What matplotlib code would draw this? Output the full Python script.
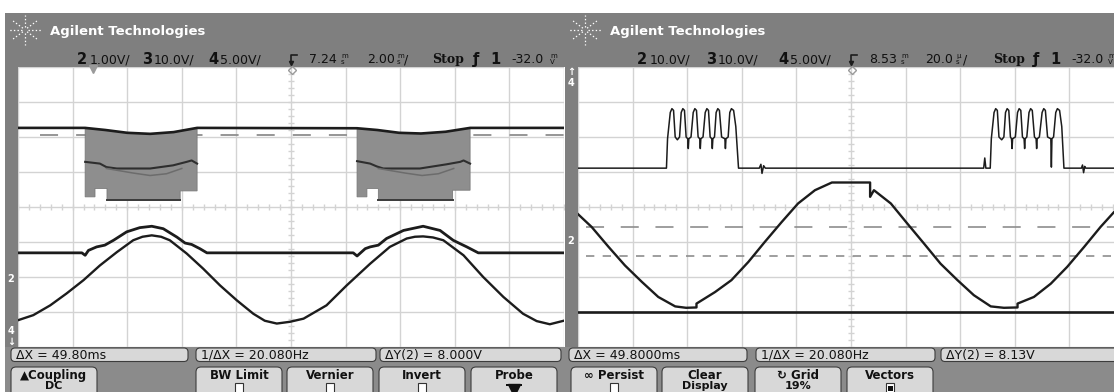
import matplotlib
matplotlib.use("Agg")
import matplotlib.pyplot as plt
from matplotlib.patches import Rectangle, FancyBboxPatch, Polygon

plt.rcParams["lines.scale_dashes"] = False
plt.rcParams["font.family"] = ["DejaVu Sans"]

W, H = 1114, 392
HEAD = "#7f7f7f"
FOOT = "#8b8b8b"
KEY = "#d8d8d8"
GRID = "#d3d3d3"
INK = "#1c1c1c"
DASH = "#8e8e8e"

# ---------------- left screen, 2.00 ms/div (x, y in divisions) ----------------
top_x = [0, 1.23, 1.6, 2.0, 2.42, 2.85, 3.28, 6.21, 6.58, 6.98, 7.38, 7.83, 8.28, 10]
top_y = [2.26, 2.26, 2.2, 2.12, 2.09, 2.14, 2.26, 2.25, 2.2, 2.12, 2.1, 2.15, 2.26, 2.26]
cursor_left_y = 2.05

# lower edge of the two modulated bursts
burst1_x = [1.23, 1.41, 1.41, 1.63, 1.63, 2.97, 2.97, 3.28]
burst1_bot = [0.29, 0.29, 0.53, 0.53, 0.19, 0.19, 0.46, 0.46]
burst2_x = [6.21, 6.39, 6.39, 6.60, 6.60, 7.96, 7.96, 8.28]
burst2_bot = [0.29, 0.29, 0.53, 0.53, 0.21, 0.21, 0.48, 0.48]

# dark envelope line inside the bursts, and the fainter one under it
mid1_x = [1.23, 1.50, 1.62, 1.81, 2.42, 2.84, 3.09, 3.18, 3.28]
mid1_y = [1.29, 1.24, 1.14, 1.10, 1.10, 1.19, 1.29, 1.33, 1.24]
mid2_x = [6.21, 6.45, 6.57, 6.69, 7.36, 7.85, 8.10, 8.16, 8.28]
mid2_y = [1.31, 1.24, 1.16, 1.10, 1.10, 1.22, 1.29, 1.33, 1.24]
low1_x = [1.62, 2.11, 2.42, 2.72, 3.00]
low1_y = [1.10, 0.97, 0.90, 0.95, 1.10]
low2_x = [6.60, 7.09, 7.40, 7.70, 7.98]
low2_y = [1.10, 0.97, 0.90, 0.95, 1.10]

hump_x = [0, 1.17, 1.23, 1.29, 1.44, 1.59, 1.75, 1.99, 2.23, 2.45, 2.66, 2.91, 3.06, 3.18,
          3.33, 3.46, 6.14, 6.21, 6.36, 6.45, 6.60, 6.75, 7.06, 7.42, 7.73, 7.97, 8.10, 8.22,
          8.43, 10]
hump_y = [-1.31, -1.31, -1.38, -1.24, -1.14, -1.09, -0.95, -0.71, -0.59, -0.55, -0.62, -0.86,
          -1.03, -1.07, -1.19, -1.31, -1.31, -1.40, -1.19, -1.14, -1.09, -0.90, -0.67, -0.55,
          -0.67, -0.95, -1.05, -1.14, -1.31, -1.31]

sine_x = [-0.01, 0.28, 0.59, 0.89, 1.20, 1.50, 1.81, 2.11, 2.28, 2.45, 2.62, 2.78, 3.09, 3.39,
          3.70, 4.01, 4.31, 4.52, 4.74, 4.98, 5.23, 5.65, 6.02, 6.45, 6.81, 7.12, 7.27, 7.42,
          7.60, 7.79, 8.16, 8.52, 8.89, 9.25, 9.50, 9.74, 10.02]
sine_y = [-3.24, -3.09, -2.81, -2.47, -2.09, -1.67, -1.29, -0.95, -0.85, -0.81, -0.85, -0.95,
          -1.33, -1.76, -2.24, -2.67, -3.05, -3.25, -3.33, -3.28, -3.19, -2.81, -2.24, -1.62,
          -1.14, -0.90, -0.85, -0.84, -0.87, -0.95, -1.38, -2.00, -2.57, -3.05, -3.26, -3.35,
          -3.24]

# ---------------- right screen, 20.0 us/div ----------------
pulse_x = [0, 1.62, 1.64, 1.69, 1.72, 1.75, 1.78, 1.82, 1.86, 1.89, 1.92, 1.95, 1.98, 2.01,
           2.02, 2.03, 2.07, 2.11, 2.14, 2.17, 2.20, 2.23, 2.24, 2.25, 2.29, 2.33, 2.36, 2.39,
           2.42, 2.45, 2.46, 2.47, 2.50, 2.53, 2.56, 2.59, 2.63, 2.69, 2.70, 2.71, 2.75, 2.78,
           2.81, 2.85, 2.89, 2.94, 3.32, 3.35, 3.37, 3.40, 3.43,
           7.43, 7.45, 7.47, 7.55, 7.57, 7.62, 7.65, 7.68, 7.71, 7.76, 7.80, 7.83, 7.86, 7.89,
           7.92, 7.94, 7.95, 7.96, 8.01, 8.05, 8.08, 8.11, 8.14, 8.17, 8.18, 8.19, 8.22, 8.26,
           8.29, 8.32, 8.36, 8.39, 8.40, 8.41, 8.45, 8.50, 8.53, 8.56, 8.60, 8.66, 8.67, 8.68,
           8.71, 8.75, 8.78, 8.82, 8.86, 8.90, 9.22, 9.24, 9.26, 9.28, 9.30, 10]
pulse_y = [1.11, 1.11, 1.95, 2.70, 2.81, 2.76, 2.00, 1.92, 2.00, 2.70, 2.81, 2.76, 2.00, 1.95,
           1.67, 1.95, 2.00, 2.70, 2.81, 2.76, 2.00, 1.95, 1.67, 1.95, 2.00, 2.70, 2.81, 2.76,
           2.00, 1.95, 1.67, 1.95, 2.00, 2.70, 2.81, 2.76, 2.00, 1.95, 1.67, 1.95, 2.00, 2.70,
           2.81, 2.76, 2.30, 1.11, 1.11, 1.22, 0.96, 1.18, 1.11,
           1.11, 1.40, 1.11, 1.11, 1.95, 2.70, 2.81, 2.76, 2.00, 1.92, 2.00, 2.70, 2.81, 2.76,
           2.00, 1.95, 1.67, 1.95, 2.00, 2.70, 2.81, 2.76, 2.00, 1.95, 1.67, 1.95, 2.00, 2.70,
           2.81, 2.76, 2.00, 1.95, 1.67, 1.95, 2.00, 2.70, 2.81, 2.76, 2.00, 1.95, 1.14, 1.95,
           2.00, 2.70, 2.81, 2.76, 2.30, 1.11, 1.11, 1.20, 0.98, 1.16, 1.11, 1.11]

wave_x = [-0.01, 0.25, 0.56, 0.86, 1.17, 1.47, 1.78, 1.98, 2.17, 2.17, 2.51, 2.81, 3.12, 3.42,
          3.73, 4.03, 4.34, 4.65, 5.35, 5.35, 5.42, 5.73, 6.03, 6.34, 6.64, 6.95, 7.25, 7.56,
          7.80, 8.05, 8.05, 8.35, 8.66, 8.96, 9.27, 9.57, 9.82, 10.1]
wave_y = [-0.19, -0.57, -1.14, -1.67, -2.14, -2.57, -2.84, -2.88, -2.87, -2.76, -2.43, -2.09,
          -1.57, -1.00, -0.43, 0.10, 0.48, 0.70, 0.70, 0.29, 0.48, 0.10, -0.47, -1.05, -1.62,
          -2.09, -2.52, -2.84, -2.88, -2.87, -2.76, -2.57, -2.19, -1.71, -1.14, -0.57, -0.14,
          0.02]

ground_y = -3.0
cursor_a_y = -0.57
cursor_b_y = -1.41

fig = plt.figure(figsize=(W / 100, H / 100), dpi=100)
fig.patch.set_facecolor("white")


def make_screen(px0):
    ax = fig.add_axes([px0 / W, (H - 347) / H, 546 / W, 280 / H], zorder=1)
    ax.set_xlim(0, 10)
    ax.set_ylim(-4, 4)
    ax.set_xticks(range(11))
    ax.set_yticks(range(-4, 5))
    ax.grid(True, color=GRID, lw=1.0)
    ax.tick_params(length=0, labelbottom=False, labelleft=False)
    for sp in ax.spines.values():
        sp.set_visible(False)
    # small ticks on the centre cross
    ax.plot([i / 5 for i in range(51)], [0] * 51, ls="none", marker="|", ms=5,
            mew=1.0, color=GRID)
    ax.plot([5] * 41, [i / 5 - 4 for i in range(41)], ls="none", marker="_", ms=5,
            mew=1.0, color=GRID)
    return ax


# ---------- left screen ----------
axl = make_screen(18)
axl.plot(top_x, top_y, color=INK, lw=1.9, zorder=4)
axl.plot([0.4, 10], [cursor_left_y] * 2, color=DASH, lw=1.3, dashes=(13, 13), zorder=2)
for bx, bb in [(burst1_x, burst1_bot), (burst2_x, burst2_bot)]:
    tops = [(x, y) for x, y in zip(top_x, top_y) if bx[0] <= x <= bx[-1]]
    verts = tops + list(zip(bx, bb))[::-1]
    axl.add_patch(Polygon(verts, closed=True, fc="#8e8e8e", ec="#7a7a7a", lw=0.6, zorder=3))
    axl.plot(bx[4:6], bb[4:6], color="#3a3a3a", lw=1.4, zorder=4)
for mx, my in [(mid1_x, mid1_y), (mid2_x, mid2_y)]:
    axl.plot(mx, my, color="#2e2e2e", lw=1.5, zorder=4)
for lx, ly in [(low1_x, low1_y), (low2_x, low2_y)]:
    axl.plot(lx, ly, color="#6c6c6c", lw=1.1, zorder=4)
axl.plot(hump_x, hump_y, color=INK, lw=2.0, zorder=4)
axl.plot(sine_x, sine_y, color=INK, lw=1.7, zorder=4)

# ---------- right screen ----------
axr = make_screen(578)
axr.plot([0.15, 10], [cursor_a_y] * 2, color=DASH, lw=1.2, dashes=(13, 12), zorder=2)
axr.plot([0.15, 10], [cursor_b_y] * 2, color=DASH, lw=1.2, dashes=(6, 6), zorder=2)
axr.plot([0, 10], [ground_y] * 2, color=INK, lw=1.9, zorder=3)
axr.plot(pulse_x, pulse_y, color=INK, lw=1.1, zorder=4)
axr.plot(wave_x, wave_y, color=INK, lw=1.7, zorder=4)

# ---------- scope chrome (pixel coordinates) ----------
scr = fig.add_axes([0, 0, 1, 1], zorder=2)
scr.set_xlim(0, W)
scr.set_ylim(H, 0)
scr.axis("off")
scr.patch.set_alpha(0)

scr.add_patch(Rectangle((5, 13), W - 5, 54, color=HEAD, lw=0))
scr.add_patch(Rectangle((5, 67), 13, 280, color=HEAD, lw=0))
scr.add_patch(Rectangle((565, 67), 13, 280, color=HEAD, lw=0))
scr.add_patch(Rectangle((5, 347), W - 5, 50, color=FOOT, lw=0))

for dx in (0, 560):
    # Agilent spark logo
    cx, cy = 25 + dx, 30
    for ddx, ddy in [(1, 0), (-1, 0), (0, 1), (0, -1), (0.7, 0.6), (-0.7, 0.6),
                     (0.7, -0.6), (-0.7, -0.6)]:
        scr.plot([cx + 3 * ddx, cx + 17 * ddx], [cy + 3 * ddy, cy + 15 * ddy],
                 color="white", lw=0.9, ls=(0, (1, 1.6)))
    scr.text(50 + dx, 31, "Agilent Technologies", color="white", fontsize=9.5,
             fontweight="bold", va="center")
    # trigger level marker
    scr.plot([297 + dx, 291 + dx, 291 + dx], [55, 55, 63], color=INK, lw=1.2)
    scr.plot([291 + dx], [63], marker="v", ms=3, color=INK)
    scr.plot([291.7 + dx], [69.5], marker="D", ms=4.5, mfc="none", mec="#9a9a9a", mew=1)

scr.plot([93], [69], marker="v", ms=6, color="#9a9a9a")

ROW = 59.5


def ch(x, t):
    scr.text(x, ROW - 0.5, t, fontsize=10.5, fontweight="bold", color="#111111", va="center")


def val(x, t):
    scr.text(x, ROW, t, fontsize=9, color="#111111", va="center")


def unit(x, t):
    scr.text(x, ROW - 0.5, t, fontsize=5, color="#111111", va="center", linespacing=0.95)


def stop(x):
    scr.text(x, ROW, "Stop", fontsize=9, fontweight="bold", family="DejaVu Serif",
             color="#111111", va="center")


# left header row
ch(77, "2"); val(90, "1.00V/")
ch(142, "3"); val(154, "10.0V/")
ch(208, "4"); val(220, "5.00V/")
val(309, "7.24"); unit(341, "m\ns")
val(367, "2.00"); unit(397, "m\ns"); val(404, "/")
stop(432)
ch(473, "ƒ"); ch(490, "1")
val(511, "-32.0"); unit(550, "m\nV")
# right header row
ch(637, "2"); val(650, "10.0V/")
ch(706, "3"); val(718, "10.0V/")
ch(778, "4"); val(790, "5.00V/")
val(869, "8.53"); unit(901, "m\ns")
val(925, "20.0"); unit(956, "µ\ns"); val(963, "/")
stop(993)
ch(1033, "ƒ"); ch(1050, "1")
val(1071, "-32.0"); unit(1108, "m\nV")

# strip markers
scr.text(11, 279, "2", color="white", fontsize=7, fontweight="bold", ha="center", va="center")
scr.text(11, 331, "4", color="white", fontsize=7, fontweight="bold", ha="center", va="center")
scr.text(11, 342, "↓", color="white", fontsize=7, fontweight="bold", ha="center", va="center")
scr.text(571, 72, "↑", color="white", fontsize=7, fontweight="bold", ha="center", va="center")
scr.text(571, 83, "4", color="white", fontsize=7, fontweight="bold", ha="center", va="center")
scr.text(571, 241, "2", color="white", fontsize=7, fontweight="bold", ha="center", va="center")

# status line
status = [(11, 177, "ΔX = 49.80ms"), (196, 180, "1/ΔX = 20.080Hz"), (380, 181, "ΔY(2) = 8.000V"),
          (569, 178, "ΔX = 49.8000ms"), (756, 179, "1/ΔX = 20.080Hz"), (941, 180, "ΔY(2) = 8.13V")]
for x, w, t in status:
    scr.add_patch(FancyBboxPatch((x, 348), w, 13.5, boxstyle="round,pad=0,rounding_size=4",
                                 fc=KEY, ec="#3c3c3c", lw=0.8))
    scr.text(x + 5, 355.2, t, fontsize=9, color="#111111", va="center")

# soft keys
keys = [(11, "▲Coupling", "DC", None), (196, "BW Limit", None, "box"),
        (287, "Vernier", None, "box"), (379, "Invert", None, "box"),
        (471, "Probe", None, "arrow"), (571, "∞ Persist", None, "box"),
        (662, "Clear", "Display", None), (755, "↻ Grid", "19%", None),
        (847, "Vectors", None, "filled")]
for x, l1, l2, mark in keys:
    scr.add_patch(FancyBboxPatch((x, 367), 86, 40, boxstyle="round,pad=0,rounding_size=5",
                                 fc=KEY, ec="#3c3c3c", lw=0.8))
    xc = x + 43
    scr.text(xc, 375.5, l1, fontsize=8.5, fontweight="bold", color="#111111",
             ha="center", va="center")
    if l2:
        scr.text(xc, 386.3, l2, fontsize=8, fontweight="bold", color="#111111",
                 ha="center", va="center")
    if mark in ("box", "filled"):
        scr.add_patch(Rectangle((xc - 4, 383), 8, 10, fc="white", ec="#333333", lw=0.8))
        if mark == "filled":
            scr.add_patch(Rectangle((xc - 2.5, 385.5), 5, 5, fc="#111111", lw=0))
    if mark == "arrow":
        scr.add_patch(Rectangle((xc - 8, 383.5), 16, 2.2, fc="#111111", lw=0))
        scr.plot([xc], [389.5], marker="v", ms=8, color="#111111")

fig.savefig("out.png", dpi=100, facecolor="white")
